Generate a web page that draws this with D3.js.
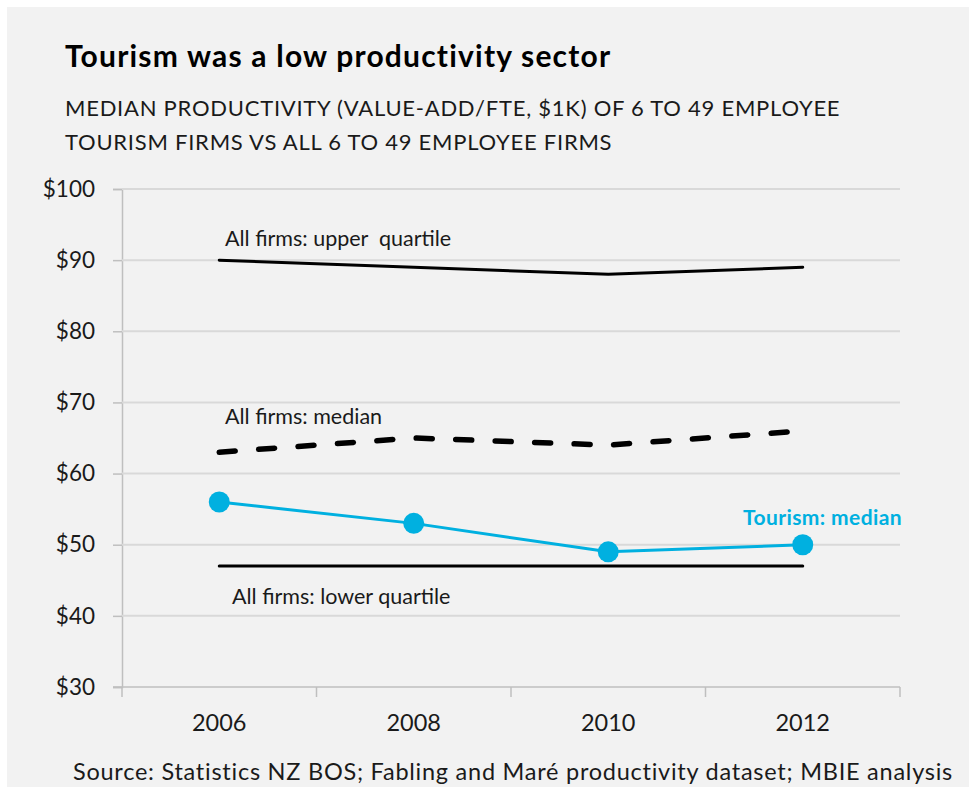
<!DOCTYPE html>
<html>
<head>
<meta charset="utf-8">
<script src="https://cdn.jsdelivr.net/npm/d3@7"></script>
<style>
  body { margin: 0; background: #fff; }
  svg { display: block; font-family: Lato, "Open Sans", sans-serif; }
</style>
</head>
<body>
<svg id="chart" width="969" height="787"></svg>
<script>
var years = ['2006', '2008', '2010', '2012'];
var upperQuartile = [90, 89, 88, 89];
var allMedian = [63, 65, 64, 66];
var tourismMedian = [56, 53, 49, 50];
var lowerQuartile = [47, 47, 47, 47];
var yTicks = [30, 40, 50, 60, 70, 80, 90, 100];

var svg = d3.select('#chart');

svg.append('rect')
    .attr('x', 7).attr('y', 7)
    .attr('width', 962).attr('height', 780)
    .attr('fill', '#f2f2f2');

var margin = {left: 122, right: 69, top: 189, bottom: 100};
var width = 969 - margin.left - margin.right,
    height = 787 - margin.top - margin.bottom;

var xScale = d3.scaleBand().domain(years).range([0, width]);
var yScale = d3.scaleLinear().domain([30, 100]).range([height, 0]);

// titles
svg.append('text')
    .attr('x', 65).attr('y', 67)
    .attr('font-size', 30).attr('font-weight', 'bold')
    .attr('letter-spacing', 1.2)
    .attr('fill', '#000')
    .text('Tourism was a low productivity sector');

var sub = ['MEDIAN PRODUCTIVITY (VALUE-ADD/FTE, $1K) OF 6 TO 49 EMPLOYEE',
           'TOURISM FIRMS VS ALL 6 TO 49 EMPLOYEE FIRMS'];
svg.selectAll('.subtitle').data(sub).enter().append('text')
    .attr('class', 'subtitle')
    .attr('x', 65)
    .attr('y', function(d, i) { return 116 + i * 34; })
    .attr('font-size', 22)
    .attr('letter-spacing', 0.75)
    .attr('fill', '#1a1a1a')
    .text(function(d) { return d; });

var g = svg.append('g')
    .attr('transform', 'translate(' + margin.left + ',' + margin.top + ')');

// gridlines + y axis
var yAxis = g.append('g')
    .call(d3.axisLeft(yScale).tickValues(yTicks).tickSize(9).tickPadding(18)
        .tickFormat(function(d) { return '$' + d; }));
yAxis.select('.domain').attr('stroke', '#bfbfbf').attr('stroke-width', 1.5);
yAxis.selectAll('.tick line').attr('stroke', '#bfbfbf').attr('stroke-width', 1.5);
yAxis.selectAll('.tick text').attr('font-size', 22.5).attr('fill', '#1a1a1a')
    .attr('font-family', 'Lato, sans-serif');

g.append('g').selectAll('line')
    .data(yTicks.slice(1))
    .enter().append('line')
    .attr('x1', 0).attr('x2', width)
    .attr('y1', function(d) { return yScale(d); })
    .attr('y2', function(d) { return yScale(d); })
    .attr('stroke', '#d9d9d9').attr('stroke-width', 2);

// x axis
var xAxis = g.append('g')
    .attr('transform', 'translate(0,' + height + ')')
    .call(d3.axisBottom(xScale).tickSize(0).tickPadding(27));
xAxis.select('.domain').attr('stroke', '#bfbfbf').attr('stroke-width', 1.5)
    .attr('d', 'M-9,0H' + width);
xAxis.selectAll('.tick text').attr('font-size', 23.5).attr('fill', '#1a1a1a')
    .attr('font-family', 'Lato, sans-serif');
xAxis.selectAll('.boundary')
    .data(d3.range(years.length + 1))
    .enter().append('line')
    .attr('class', 'boundary')
    .attr('x1', function(i) { return i * xScale.step(); })
    .attr('x2', function(i) { return i * xScale.step(); })
    .attr('y1', 0).attr('y2', 10)
    .attr('stroke', '#bfbfbf').attr('stroke-width', 1.5);

var cx = function(d, i) { return xScale(years[i]) + xScale.bandwidth() / 2; };
var line = d3.line()
    .x(cx)
    .y(function(d) { return yScale(d); });

g.append('path').datum(upperQuartile)
    .attr('d', line).attr('fill', 'none')
    .attr('stroke', '#000').attr('stroke-width', 3).attr('stroke-linecap', 'round');

g.append('path').datum(allMedian)
    .attr('d', line).attr('fill', 'none')
    .attr('stroke', '#000').attr('stroke-width', 5.5)
    .attr('stroke-dasharray', '16,23.5').attr('stroke-linecap', 'round');

g.append('path').datum(lowerQuartile)
    .attr('d', line).attr('fill', 'none')
    .attr('stroke', '#000').attr('stroke-width', 3).attr('stroke-linecap', 'round');

g.append('path').datum(tourismMedian)
    .attr('d', line).attr('fill', 'none')
    .attr('stroke', '#00b0e0').attr('stroke-width', 3);

g.selectAll('.dot').data(tourismMedian).enter().append('circle')
    .attr('class', 'dot')
    .attr('cx', cx)
    .attr('cy', function(d) { return yScale(d); })
    .attr('r', 10.5)
    .attr('fill', '#00b0e0');

// series labels
var labels = [
    {text: 'All firms: upper\u00a0 quartile', x: 103, y: 57, color: '#1a1a1a', bold: false},
    {text: 'All firms: median', x: 103, y: 235, color: '#1a1a1a', bold: false},
    {text: 'All firms: lower quartile', x: 110, y: 415, color: '#1a1a1a', bold: false},
    {text: 'Tourism: median', x: 621, y: 336, color: '#00b0e0', bold: true}
];
g.selectAll('.series-label').data(labels).enter().append('text')
    .attr('class', 'series-label')
    .attr('x', function(d) { return d.x; })
    .attr('y', function(d) { return d.y; })
    .attr('font-size', function(d) { return d.bold ? 21 : 21.5; })
    .attr('letter-spacing', function(d) { return d.bold ? 0.4 : 0; })
    .attr('font-weight', function(d) { return d.bold ? 'bold' : 'normal'; })
    .attr('fill', function(d) { return d.color; })
    .text(function(d) { return d.text; });

svg.append('text')
    .attr('x', 513).attr('y', 780)
    .attr('text-anchor', 'middle')
    .attr('font-size', 23.5)
    .attr('letter-spacing', 0.75)
    .attr('fill', '#1a1a1a')
    .text('Source: Statistics NZ BOS; Fabling and Maré productivity dataset; MBIE analysis');
</script>
</body>
</html>
